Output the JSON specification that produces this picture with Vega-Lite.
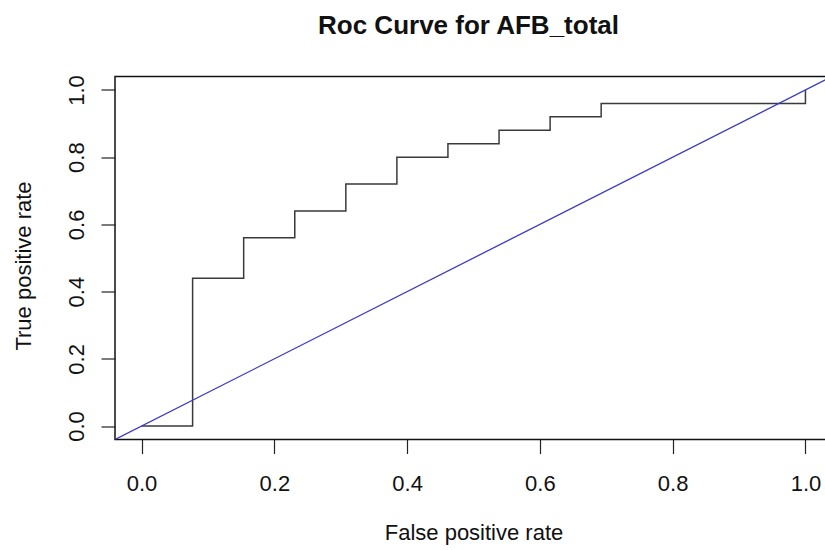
{
  "$schema": "https://vega.github.io/schema/vega-lite/v6.json",
  "autosize": "none",
  "width": 717,
  "height": 363,
  "padding": {"left": 115, "top": 76.5, "right": 0, "bottom": 111},
  "background": "white",
  "config": {
    "font": "Liberation Sans",
    "view": {"stroke": "#111", "strokeWidth": 1.5},
    "axis": {
      "grid": false,
      "domain": false,
      "tickColor": "#222",
      "tickWidth": 1.2,
      "tickSize": 14,
      "labelFont": "Liberation Sans",
      "labelFontSize": 22,
      "labelColor": "#111",
      "labelFlush": false,
      "labelOverlap": false,
      "titleFont": "Liberation Sans",
      "titleFontSize": 22,
      "titleFontWeight": "normal",
      "titleColor": "#111"
    }
  },
  "title": {
    "text": "Roc Curve for AFB_total",
    "font": "Liberation Sans",
    "fontSize": 26,
    "fontWeight": "bold",
    "color": "#111",
    "anchor": "middle",
    "frame": "group",
    "baseline": "alphabetic",
    "offset": 15,
    "dx": -5
  },
  "datasets": {
    "roc": [
      {"i": 0, "fpr": 0.0, "tpr": 0.0},
      {"i": 1, "fpr": 0.0769, "tpr": 0.0},
      {"i": 2, "fpr": 0.0769, "tpr": 0.44},
      {"i": 3, "fpr": 0.1538, "tpr": 0.44},
      {"i": 4, "fpr": 0.1538, "tpr": 0.56},
      {"i": 5, "fpr": 0.2308, "tpr": 0.56},
      {"i": 6, "fpr": 0.2308, "tpr": 0.64},
      {"i": 7, "fpr": 0.3077, "tpr": 0.64},
      {"i": 8, "fpr": 0.3077, "tpr": 0.72},
      {"i": 9, "fpr": 0.3846, "tpr": 0.72},
      {"i": 10, "fpr": 0.3846, "tpr": 0.80},
      {"i": 11, "fpr": 0.4615, "tpr": 0.80},
      {"i": 12, "fpr": 0.4615, "tpr": 0.84},
      {"i": 13, "fpr": 0.5385, "tpr": 0.84},
      {"i": 14, "fpr": 0.5385, "tpr": 0.88},
      {"i": 15, "fpr": 0.6154, "tpr": 0.88},
      {"i": 16, "fpr": 0.6154, "tpr": 0.92},
      {"i": 17, "fpr": 0.6923, "tpr": 0.92},
      {"i": 18, "fpr": 0.6923, "tpr": 0.96},
      {"i": 19, "fpr": 1.0, "tpr": 0.96},
      {"i": 20, "fpr": 1.0, "tpr": 1.0}
    ],
    "diag": [
      {"i": 0, "fpr": -0.04, "tpr": -0.04},
      {"i": 1, "fpr": 1.04, "tpr": 1.04}
    ]
  },
  "layer": [
    {
      "data": {"name": "roc"},
      "mark": {"type": "line", "color": "#3a3a3a", "strokeWidth": 1.5, "clip": true},
      "encoding": {
        "x": {
          "field": "fpr", "type": "quantitative",
          "scale": {"domain": [-0.04, 1.04], "nice": false, "zero": false},
          "axis": {
            "values": [0, 0.2, 0.4, 0.6, 0.8, 1.0],
            "format": ".1f",
            "labelBaseline": "alphabetic",
            "labelPadding": 36.5,
            "title": "False positive rate",
            "titleBaseline": "alphabetic",
            "titleX": 358.5,
            "titleY": 99.6,
            "titleAnchor": "middle"
          }
        },
        "y": {
          "field": "tpr", "type": "quantitative",
          "scale": {"domain": [-0.04, 1.04], "nice": false, "zero": false},
          "axis": {
            "values": [0, 0.2, 0.4, 0.6, 0.8, 1.0],
            "format": ".1f",
            "labelAngle": -90,
            "labelAlign": "center",
            "labelBaseline": "alphabetic",
            "labelPadding": 18,
            "title": "True positive rate",
            "titleAngle": -90,
            "titleAlign": "center",
            "titleBaseline": "alphabetic",
            "titleX": -85,
            "titleY": 189
          }
        },
        "order": {"field": "i", "type": "quantitative"}
      }
    },
    {
      "data": {"name": "diag"},
      "mark": {"type": "line", "color": "#3c3cc0", "strokeWidth": 1.3, "clip": true},
      "encoding": {
        "x": {"field": "fpr", "type": "quantitative"},
        "y": {"field": "tpr", "type": "quantitative"},
        "order": {"field": "i", "type": "quantitative"}
      }
    }
  ]
}
